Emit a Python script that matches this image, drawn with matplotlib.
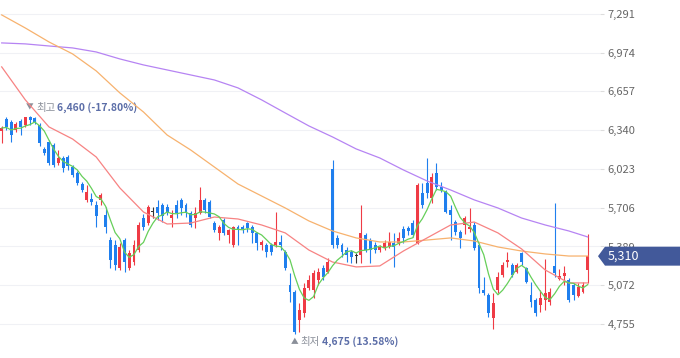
import matplotlib
matplotlib.use('Agg')
import matplotlib.pyplot as plt
import numpy as np
import pandas as pd
from matplotlib.patches import Polygon
from matplotlib.transforms import IdentityTransform

# daily candles
opens = [
    6334, 6432, 6408, 6342, 6416, 6383, 6448, 6440, 6383, 6187,
    6244, 6219, 6072, 6113, 6121, 6039, 5990, 5900, 5770, 5778,
    5729, 5770, 5647, 5442, 5401, 5213, 5442, 5213, 5262, 5360,
    5622, 5581, 5671, 5712, 5729, 5712, 5622, 5729, 5770, 5729,
    5663, 5622, 5663, 5770, 5753, 5581, 5500, 5606, 5483, 5401,
    5549, 5549, 5581, 5549, 5500, 5401, 5401, 5401, 5401, 5426,
    5344, 5074, 5017, 4788, 4845, 5050, 5033, 5115, 5213, 5181,
    6023, 5459, 5401, 5360, 5344, 5311, 5320, 5483, 5442, 5401,
    5360, 5377, 5385, 5418, 5418, 5532, 5540, 5581, 5418, 5827,
    5909, 5786, 5990, 5876, 5835, 5688, 5589, 5508, 5565, 5532,
    5565, 5401, 5033, 4992, 4804, 5033, 5156, 5262, 5238, 5181,
    5336, 5213, 4992, 4952, 4911, 4952, 4935, 5230, 5123, 5148,
    5115, 5074, 4984, 5017, 5197]
closes = [
    6358, 6367, 6301, 6391, 6367, 6448, 6424, 6408, 6236, 6154,
    6072, 6056, 6113, 6031, 6048, 5974, 5909, 5851, 5835, 5753,
    5639, 5810, 5549, 5279, 5238, 5385, 5262, 5336, 5401, 5565,
    5549, 5712, 5671, 5663, 5639, 5671, 5647, 5663, 5704, 5663,
    5565, 5663, 5770, 5688, 5630, 5524, 5549, 5500, 5524, 5549,
    5524, 5532, 5540, 5500, 5418, 5426, 5344, 5344, 5426, 5401,
    5213, 5017, 4690, 4870, 5050, 5115, 5172, 5181, 5140, 5262,
    5401, 5401, 5344, 5320, 5303, 5311, 5500, 5360, 5360, 5360,
    5385, 5418, 5426, 5385, 5459, 5459, 5516, 5483, 5892, 5729,
    5827, 5958, 5876, 5851, 5671, 5647, 5508, 5459, 5622, 5549,
    5377, 5050, 5009, 4845, 4927, 5140, 5238, 5279, 5156, 5238,
    5262, 5099, 4935, 4845, 4968, 5009, 5017, 5172, 5148, 5172,
    4952, 4992, 5058, 5074, 5310]
highs = [
    6375, 6448, 6424, 6408, 6432, 6450, 6460, 6450, 6399, 6203,
    6260, 6236, 6178, 6129, 6138, 6056, 6007, 5917, 5892, 5827,
    5761, 5827, 5712, 5467, 5442, 5418, 5459, 5360, 5442, 5589,
    5655, 5729, 5712, 5770, 5745, 5737, 5688, 5770, 5786, 5745,
    5679, 5712, 5876, 5786, 5770, 5598, 5565, 5622, 5532, 5557,
    5565, 5565, 5589, 5565, 5508, 5442, 5418, 5418, 5671, 5483,
    5360, 5172, 5033, 4927, 5091, 5156, 5197, 5213, 5238, 5295,
    6097, 5483, 5418, 5385, 5360, 5336, 5729, 5500, 5459, 5426,
    5401, 5442, 5508, 5500, 5508, 5557, 5557, 5606, 5909, 5909,
    6113, 5990, 6072, 5917, 5851, 5729, 5606, 5524, 5639, 5704,
    5589, 5418, 5140, 5009, 5009, 5181, 5262, 5344, 5254, 5254,
    5344, 5222, 5099, 4968, 5033, 5287, 5050, 5745, 5205, 5230,
    5132, 5091, 5091, 5099, 5491]
lows = [
    6236, 6342, 6244, 6326, 6301, 6367, 6383, 6391, 6211, 6138,
    6056, 6039, 6056, 5999, 6015, 5958, 5892, 5835, 5753, 5729,
    5549, 5729, 5500, 5213, 5197, 5197, 5181, 5197, 5238, 5344,
    5524, 5565, 5622, 5606, 5589, 5647, 5549, 5622, 5647, 5630,
    5549, 5540, 5655, 5663, 5622, 5508, 5442, 5483, 5418, 5385,
    5401, 5500, 5508, 5418, 5360, 5360, 5303, 5320, 5385, 5360,
    5197, 4935, 4675, 4690, 4812, 5033, 4968, 5074, 5115, 5172,
    5377, 5377, 5303, 5262, 5254, 5254, 5254, 5344, 5254, 5336,
    5344, 5360, 5377, 5222, 5401, 5418, 5483, 5467, 5410, 5704,
    5786, 5745, 5851, 5835, 5663, 5442, 5483, 5377, 5491, 5508,
    5360, 5009, 4992, 4812, 4714, 5009, 5140, 5222, 5140, 5172,
    5238, 5091, 4894, 4821, 4853, 4870, 4911, 5140, 5115, 5074,
    4935, 4952, 4976, 5009, 5091]

# longer moving averages, read every 5th candle (they start before the window)
ma_idx = [0, 5, 10, 15, 20, 25, 30, 35, 40, 45, 50, 55, 60, 65, 70, 75,
          80, 85, 90, 95, 100, 105, 110, 115, 120, 124]
ma20 = [6858, 6588, 6367, 6268, 6121, 5868, 5671, 5573, 5581, 5630, 5614, 5565, 5500,
        5360, 5262, 5222, 5230, 5352, 5459, 5565, 5589, 5500, 5369, 5197, 5091, 5091]
ma60 = [7283, 7176, 7062, 6964, 6825, 6645, 6489, 6301, 6178, 6039, 5900, 5802, 5704,
        5598, 5516, 5459, 5426, 5426, 5442, 5459, 5434, 5385, 5352, 5328, 5311, 5311]
ma120 = [7054, 7046, 7029, 7013, 6980, 6923, 6874, 6833, 6792, 6751, 6686, 6588, 6481,
         6375, 6285, 6187, 6113, 6015, 5925, 5851, 5770, 5704, 5622, 5565, 5516, 5467]

yticks = [7291, 6974, 6657, 6340, 6023, 5706, 5389, 5072, 4755]

plt.rcParams['font.family'] = ['Noto Sans CJK KR', 'DejaVu Sans']

W, H = 680, 358
fig = plt.figure(figsize=(W / 100, H / 100), dpi=100)
ax = fig.add_axes([0, 0, 600 / W, 1])

o = np.array(opens)
c = np.array(closes)
hi = np.array(highs)
lo = np.array(lows)
n = len(c)
x = np.arange(n)

step = 4.726  # pixels per candle
ax.set_xlim(-1.7 / step, (600 - 1.7) / step)
ax.set_ylim(4477, 7405)

for v in yticks:
    ax.axhline(v, color='#f0f1f5', lw=0.8, zorder=0)

colors = np.where(c > o, '#ef3b45', np.where(c < o, '#1f7fee', '#333333'))
ax.vlines(x, lo, hi, colors=colors, lw=0.8, zorder=2)
ax.bar(x, np.maximum(np.abs(c - o), 7), bottom=np.minimum(o, c), width=0.62,
       color=colors, linewidth=0, zorder=3)

ma5 = pd.Series(c).rolling(5, min_periods=1).mean()
ax.plot(ma_idx, ma120, color='#b684f3', lw=0.9, zorder=4)
ax.plot(ma_idx, ma60, color='#f7b26e', lw=0.9, zorder=4)
ax.plot(ma_idx, ma20, color='#f78383', lw=0.9, zorder=4)
ax.plot(x, ma5, color='#66cf5a', lw=0.9, zorder=4)

ax.set_yticks(yticks)
ax.set_yticklabels([f'{v:,}' for v in yticks])
ax.yaxis.tick_right()
ax.tick_params(axis='y', length=3, color='#dddddd', pad=2.5, labelsize=8,
               labelcolor='#666666')
ax.tick_params(axis='x', bottom=False, labelbottom=False)
for s in ax.spines.values():
    s.set_visible(False)

# high / low markers
last = closes[-1]
hi_i = int(np.argmax(hi))
lo_i = int(np.argmin(lo))
for i, val, dy, mark, word in [(hi_i, highs[hi_i], 8, '▼', '최고'),
                               (lo_i, lows[lo_i], -8, '▲', '최저')]:
    pct = (last / val - 1) * 100
    ax.annotate(mark, (i, val), xytext=(0, dy), textcoords='offset pixels',
                ha='center', va='center', fontsize=5.5, color='#8a8f99')
    ax.annotate(word, (i, val), xytext=(6, dy), textcoords='offset pixels',
                ha='left', va='center', fontsize=7.5, color='#8a8f99')
    ax.annotate(f'{val:,} ({pct:.2f}%)', (i, val), xytext=(27, dy),
                textcoords='offset pixels', ha='left', va='center', fontsize=7.5,
                fontweight='bold', color='#5c6ea8')

# current price tag
yc = ax.transData.transform((0, last))[1]
pts = [(598, yc), (605, yc + 9.5), (680, yc + 9.5), (680, yc - 9.5), (605, yc - 9.5)]
fig.add_artist(Polygon(pts, closed=True, transform=IdentityTransform(),
                       facecolor='#42599a', edgecolor='none', zorder=5))
fig.text(608 / W, yc / H, f'{last:,}', color='white', fontsize=9,
         ha='left', va='center', zorder=6)

fig.savefig('out.png', dpi=100)
